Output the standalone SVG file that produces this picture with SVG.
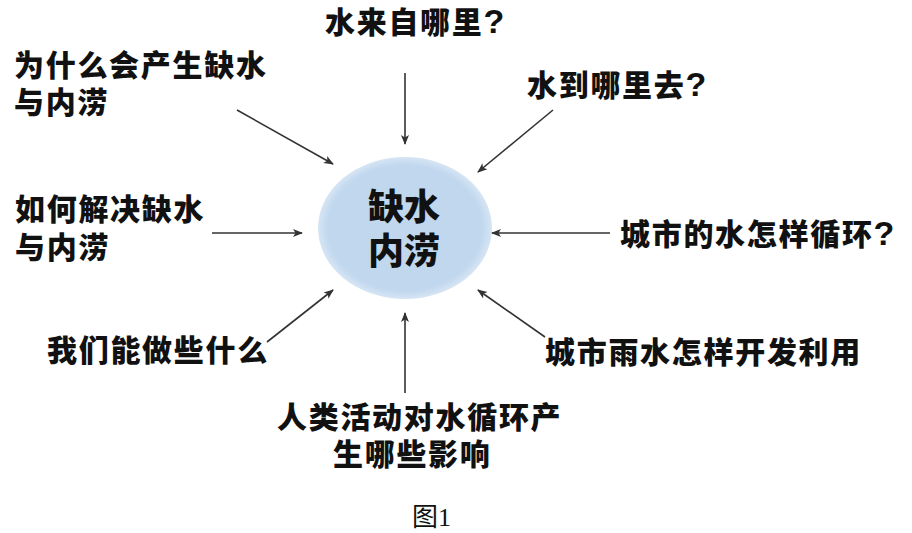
<svg xmlns="http://www.w3.org/2000/svg" width="912" height="533" viewBox="0 0 912 533">
  <style>
    .lbl { font-family: "Liberation Sans", "Noto Sans CJK SC", sans-serif; font-weight: 900; font-size: 30px; letter-spacing: 1.7px; fill: #111; }
    .q { font-size: 34px; }
    .ctr { font-family: "Liberation Sans", "Noto Sans CJK SC", sans-serif; font-weight: 900; font-size: 36px; fill: #111; text-anchor: middle; }
    .cap { font-family: "Liberation Serif", "Noto Sans CJK SC", serif; font-size: 26px; fill: #111; }
    .arr { stroke: #333; stroke-width: 1.6; fill: none; marker-end: url(#ah); }
  </style>
  <defs>
    <marker id="ah" viewBox="0 0 10 10" refX="9" refY="5" markerWidth="10" markerHeight="10" markerUnits="userSpaceOnUse" orient="auto">
      <path d="M0,1 L10,5 L0,9 L2.5,5 Z" fill="#333"/>
    </marker>
    <radialGradient id="eg" cx="50%" cy="50%" r="50%">
      <stop offset="0%" stop-color="#c0d7ee"/>
      <stop offset="88%" stop-color="#c0d7ee"/>
      <stop offset="100%" stop-color="#d6e5f4"/>
    </radialGradient>
  </defs>
  <rect width="912" height="533" fill="#ffffff"/>

  <g id="center">
    <ellipse cx="405" cy="228" rx="87" ry="71" fill="url(#eg)"/>
    <text class="ctr" x="404" y="220">缺水</text>
    <text class="ctr" x="404" y="264">内涝</text>
  </g>

  <g id="n-top"><text class="lbl" x="325" y="33">水来自哪里<tspan class="q">?</tspan></text></g>
  <g id="n-topleft">
    <text class="lbl" x="14" y="76">为什么会产生缺水</text>
    <text class="lbl" x="14" y="113">与内涝</text>
  </g>
  <g id="n-topright"><text class="lbl" x="527" y="96">水到哪里去<tspan class="q">?</tspan></text></g>
  <g id="n-left">
    <text class="lbl" x="15" y="220">如何解决缺水</text>
    <text class="lbl" x="15" y="258">与内涝</text>
  </g>
  <g id="n-right"><text class="lbl" x="620" y="245">城市的水怎样循环<tspan class="q">?</tspan></text></g>
  <g id="n-bottomleft"><text class="lbl" x="47" y="361">我们能做些什么</text></g>
  <g id="n-bottomright"><text class="lbl" x="545" y="363">城市雨水怎样开发利用</text></g>
  <g id="n-bottom">
    <text class="lbl" x="277" y="428">人类活动对水循环产</text>
    <text class="lbl" x="333" y="465">生哪些影响</text>
  </g>

  <g id="connectors">
    <line class="arr" x1="405" y1="73" x2="405" y2="144"/>
    <line class="arr" x1="237" y1="110" x2="333" y2="164"/>
    <line class="arr" x1="553" y1="110" x2="478" y2="172"/>
    <line class="arr" x1="212" y1="233" x2="302" y2="233"/>
    <line class="arr" x1="610" y1="233" x2="492" y2="233"/>
    <line class="arr" x1="267" y1="342" x2="333" y2="290"/>
    <line class="arr" x1="545" y1="337" x2="478" y2="290"/>
    <line class="arr" x1="405" y1="393" x2="405" y2="313"/>
  </g>

  <g id="caption"><text class="cap" x="412" y="526">图1</text></g>
</svg>
